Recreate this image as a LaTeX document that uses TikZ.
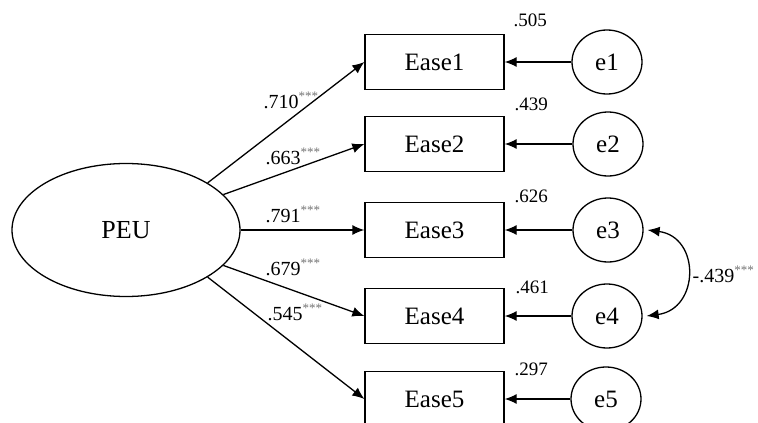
\documentclass[tikz,border=0pt]{standalone}
\usepackage{fontspec}
\setmainfont{Liberation Serif}
\usetikzlibrary{shapes.geometric,arrows.meta}
\newcommand{\stars}{{\color{black!55}\textsuperscript{\fontsize{13}{15}\selectfont***}}}
\begin{document}
\begin{tikzpicture}[x=1pt,y=-1pt,
  line width=1.3pt,
  arr/.style={-{Latex[length=12pt,width=10pt]}},
  dblarr/.style={{Latex[length=12pt,width=10pt]}-{Latex[length=12pt,width=10pt]}},
  latent/.style={draw,ellipse,minimum width=228pt,minimum height=133pt,inner sep=0pt,font=\fontsize{26}{30}\selectfont},
  obs/.style={draw,rectangle,minimum width=139pt,minimum height=55pt,inner sep=0pt,font=\fontsize{25}{30}\selectfont},
  err/.style={draw,ellipse,minimum width=70pt,minimum height=64pt,inner sep=0pt,font=\fontsize{25}{30}\selectfont},
  coef/.style={anchor=base west,inner sep=0pt,font=\fontsize{20}{24}\selectfont},
  rsq/.style={anchor=base west,inner sep=0pt,font=\fontsize{19}{23}\selectfont}]
\useasboundingbox (0,0) rectangle (758,423);
\clip (0,0) rectangle (758,423);
\node[latent] (PEU) at (126,230) {PEU};
\node[obs] (E1) at (434.5,62) {Ease1};
\node[obs] (E2) at (434.5,144) {Ease2};
\node[obs] (E3) at (434.5,230) {Ease3};
\node[obs] (E4) at (434.5,316) {Ease4};
\node[obs] (E5) at (434.5,399) {Ease5};
\node[err] (e1) at (607,62) {e1};
\node[err] (e2) at (608,144) {e2};
\node[err] (e3) at (608,230) {e3};
\node[err] (e4) at (607,316) {e4};
\node[err] (e5) at (606,399) {e5};
\draw[arr] (PEU.30) -- (E1.west);
\draw[arr] (PEU.20) -- (E2.west);
\draw[arr] (PEU.east) -- (E3.west);
\draw[arr] (PEU.-20) -- (E4.west);
\draw[arr] (PEU.-30) -- (E5.west);
\foreach \i in {1,...,5}{\draw[arr] (e\i.west) -- (E\i.east);}
\draw[dblarr] ([xshift=4pt]e3.east) .. controls +(53,7) and +(53,-7) .. ([xshift=4pt]e4.east);
\node[coef] (c1) at (263,108) {.710\stars};
\node[coef] (c2) at (265,164) {.663\stars};
\node[coef] (c3) at (265,222) {.791\stars};
\node[coef] (c4) at (265,275) {.679\stars};
\node[coef] (c5) at (267,320) {.545\stars};
\node[coef] (c6) at (692,282) {-.439\stars};
\node[rsq] (r1) at (513,27) {.505};
\node[rsq] (r2) at (514,110) {.439};
\node[rsq] (r3) at (514,202) {.626};
\node[rsq] (r4) at (515,293) {.461};
\node[rsq] (r5) at (514,375) {.297};
\end{tikzpicture}
\end{document}
